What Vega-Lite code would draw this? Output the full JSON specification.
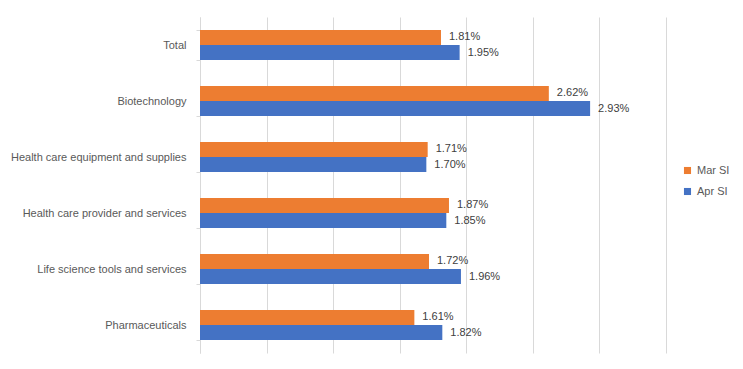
{
  "$schema": "https://vega.github.io/schema/vega-lite/v6.json",
  "width": 466,
  "height": 336,
  "autosize": {"type": "none"},
  "padding": {"left": 200, "top": 17, "right": 77, "bottom": 16},
  "background": "white",
  "data": {"values": [
    {"cat": "Total", "series": "Mar SI", "v": 0.0181},
    {"cat": "Total", "series": "Apr SI", "v": 0.0195},
    {"cat": "Biotechnology", "series": "Mar SI", "v": 0.0262},
    {"cat": "Biotechnology", "series": "Apr SI", "v": 0.0293},
    {"cat": "Health care equipment and supplies", "series": "Mar SI", "v": 0.0171},
    {"cat": "Health care equipment and supplies", "series": "Apr SI", "v": 0.0170},
    {"cat": "Health care provider and services", "series": "Mar SI", "v": 0.0187},
    {"cat": "Health care provider and services", "series": "Apr SI", "v": 0.0185},
    {"cat": "Life science tools and services", "series": "Mar SI", "v": 0.0172},
    {"cat": "Life science tools and services", "series": "Apr SI", "v": 0.0196},
    {"cat": "Pharmaceuticals", "series": "Mar SI", "v": 0.0161},
    {"cat": "Pharmaceuticals", "series": "Apr SI", "v": 0.0182}
  ]},
  "config": {
    "view": {"stroke": null},
    "font": "Liberation Sans"
  },
  "encoding": {
    "y": {
      "field": "cat", "type": "nominal", "sort": null,
      "scale": {"paddingInner": 0.464, "paddingOuter": 0.232},
      "axis": {"title": null, "tickBand": "extent", "domainColor": "#D9D9D9", "tickColor": "#D9D9D9", "tickSize": 4, "labelColor": "#595959", "labelFontSize": 11, "labelPadding": 10, "grid": false}
    },
    "yOffset": {"field": "series", "type": "nominal", "sort": ["Mar SI", "Apr SI"]},
    "x": {
      "field": "v", "type": "quantitative",
      "scale": {"domain": [0, 0.035], "nice": false},
      "axis": {"title": null, "values": [0, 0.005, 0.01, 0.015, 0.02, 0.025, 0.03, 0.035], "labels": false, "ticks": false, "domain": false, "gridColor": "#D9D9D9", "gridWidth": 1}
    }
  },
  "layer": [
    {
      "mark": {"type": "bar"},
      "encoding": {
        "color": {
          "field": "series", "type": "nominal",
          "scale": {"domain": ["Mar SI", "Apr SI"], "range": ["#ED7D31", "#4472C4"]},
          "legend": {"title": null, "orient": "none", "legendX": 482, "legendY": 148, "symbolType": "square", "symbolSize": 50, "labelFontSize": 11, "labelColor": "#595959", "rowPadding": 9}
        }
      }
    },
    {
      "mark": {"type": "text", "align": "left", "dx": 8, "fontSize": 11, "color": "#404040"},
      "encoding": {
        "text": {"field": "v", "type": "quantitative", "format": ".2%"}
      }
    }
  ]
}
